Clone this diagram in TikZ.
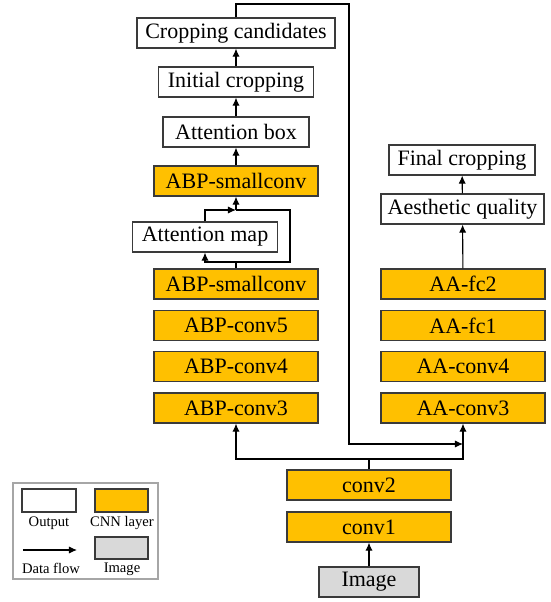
\documentclass[tikz,border=0pt]{standalone}
\usepackage{fontspec}
\setmainfont{Liberation Serif}
\usepackage{xcolor}
\usetikzlibrary{arrows.meta}
\definecolor{cnnorange}{HTML}{FFC000}
\definecolor{imggray}{HTML}{D9D9D9}
\definecolor{linegray}{HTML}{3A3A3A}
\definecolor{legendgray}{HTML}{A6A6A6}

\begin{document}
\begin{tikzpicture}[x=0.5pt, y=-0.5pt,
        outbox/.style={draw=linegray, line width=0.6pt, fill=white, minimum height=15pt, inner sep=0pt, font=\fontsize{11}{13}\selectfont},
        cnnbox/.style={outbox, fill=cnnorange},
        imgbox/.style={outbox, fill=imggray},
        flow/.style={-{Latex[length=4pt,width=3.6pt]}, line width=0.55pt},
        keytext/.style={inner sep=0pt, font=\fontsize{7.3}{9}\selectfont}]
        \useasboundingbox (0,0) rectangle (551,602);

        % Ramo sinistro
        \node[outbox, minimum width=99pt] (cand) at (236,33) {Cropping candidates};
        \node[outbox, minimum width=77.5pt] (init) at (236,82) {Initial cropping};
        \node[outbox, minimum width=73pt] (attbox) at (236,132) {Attention box};
        \node[cnnbox, minimum width=82pt] (sctop) at (236,181) {ABP-smallconv};
        \node[outbox, minimum width=72.5pt] (attmap) at (205,237) {Attention map};
        \node[cnnbox, minimum width=82pt] (scbot) at (236,284) {ABP-smallconv};
        \node[cnnbox, minimum width=82pt] (abp5) at (236,325.5) {ABP-conv5};
        \node[cnnbox, minimum width=82pt] (abp4) at (236,366.5) {ABP-conv4};
        \node[cnnbox, minimum width=82pt] (abp3) at (236,408) {ABP-conv3};

        % Ramo destro
        \node[outbox, minimum width=73pt] (final) at (462,160) {Final cropping};
        \node[outbox, minimum width=81.5pt] (aesth) at (462.5,209) {Aesthetic quality};
        \node[cnnbox, minimum width=82pt] (aafc2) at (463,284) {AA-fc2};
        \node[cnnbox, minimum width=82pt] (aafc1) at (463,325.5) {AA-fc1};
        \node[cnnbox, minimum width=82pt] (aa4) at (463,366.5) {AA-conv4};
        \node[cnnbox, minimum width=82pt] (aa3) at (463,408) {AA-conv3};

        % Tronco comune
        \node[cnnbox, minimum width=82pt] (conv2) at (369,485) {conv2};
        \node[cnnbox, minimum width=82pt] (conv1) at (369,527) {conv1};
        \node[imgbox, minimum width=50pt] (image) at (369,582) {Image};

        % Punti di snodo
        \coordinate (split) at (369,459);
        \coordinate (looptop) at (349,4);
        \coordinate (loopend) at (aa3.south |- 0,444);
        \coordinate (amsplit) at (236,262);
        \coordinate (amright) at (290,210);
        \coordinate (amjoin) at (236,210);

        % Collegamenti
        \draw[flow] (image) -- (conv1);
        \draw[line width=0.55pt] (conv2.north) -- (split);
        \draw[flow] (split) -| (abp3.south);
        \draw[flow] (split) -| (aa3.south);
        \draw[flow] (cand.north) |- (looptop) |- (loopend);
        \draw[line width=0.55pt] (scbot.north) -- (amsplit);
        \draw[flow] (amsplit) -| (attmap.south);
        \draw[line width=0.55pt] (amsplit) -| (amright) -- (amjoin);
        \draw[flow] (attmap.north) |- (amjoin);
        \draw[flow] (amjoin) -- (sctop.south);
        \draw[flow] (sctop) -- (attbox);
        \draw[flow] (attbox) -- (init);
        \draw[flow] (init) -- (cand);
        \draw[flow] (aafc2) -- (aesth);
        \draw[flow] (aesth) -- (final);

        % Legenda
        \node[draw=legendgray, line width=0.8pt, minimum width=72.5pt, minimum height=48pt, inner sep=0pt] (legend) at (85.5,531) {};
        \node[outbox, minimum width=27pt, minimum height=11.5pt] (keyout) at (49,500.5) {};
        \node[cnnbox, minimum width=26.5pt, minimum height=11.5pt] (keycnn) at (121.5,500.5) {};
        \node[keytext] (keyoutlbl) at (49,523) {Output};
        \node[keytext] (keycnnlbl) at (122,523) {CNN layer};
        \coordinate (keyflowa) at (23,550);
        \coordinate (keyflowb) at (77,550);
        \draw[flow] (keyflowa) -- (keyflowb);
        \node[imgbox, minimum width=26.5pt, minimum height=11pt] (keyimg) at (121.5,548) {};
        \node[keytext] (keyflowlbl) at (51,568) {Data flow};
        \node[keytext] (keyimglbl) at (122,569) {Image};
    \end{tikzpicture}
\end{document}
